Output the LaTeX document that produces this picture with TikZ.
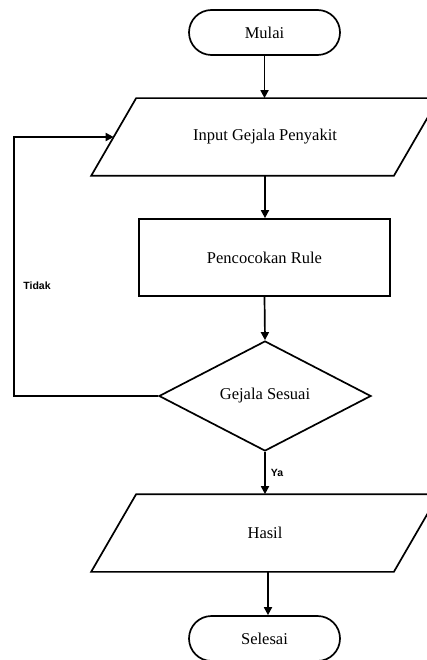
\documentclass[tikz,border=0pt]{standalone}
\usepackage{fontspec}
\setmainfont{Liberation Serif}
\newfontfamily\lblfont{Liberation Sans}
\usetikzlibrary{shapes.geometric,arrows.meta}
\begin{document}
\begin{tikzpicture}[x=1pt,y=-1pt,
  line width=1.7pt,
  arr/.style={-{Triangle[length=8pt,width=8pt]}},
  txt/.style={font=\fontsize{16.5}{18}\selectfont},
  term/.style={txt,draw,rectangle,rounded corners=22.5pt,minimum width=151pt,minimum height=45pt,inner sep=0pt},
  iobody/.style={txt,rectangle,minimum width=301pt,minimum height=76pt,inner sep=0pt},
  procbox/.style={txt,draw,rectangle,minimum width=251pt,minimum height=77pt,inner sep=0pt},
  decbox/.style={txt,draw,diamond,minimum width=212pt,minimum height=110pt,inner sep=0pt,aspect=1.93},
  lbl/.style={font=\lblfont\bfseries\fontsize{10.5}{12}\selectfont,inner sep=0pt}
]
\useasboundingbox (0,0) rectangle (427,660);
\clip (0,0) rectangle (427,660);
\node[term] (mulai) at (264.5,32.5) {Mulai};
\node[iobody] (input) at (265,137) {Input Gejala Penyakit};
\draw ([xshift=22.5pt]input.north west) -- ([xshift=22.5pt]input.north east) -- ([xshift=-22.5pt]input.south east) -- ([xshift=-22.5pt]input.south west) -- cycle;
\node[procbox] (rule) at (264.5,257.5) {Pencocokan Rule};
\node[decbox] (dec) at (265,396) {Gejala Sesuai};
\node[iobody] (hasil) at (265,533) {Hasil};
\draw ([xshift=22.5pt]hasil.north west) -- ([xshift=22.5pt]hasil.north east) -- ([xshift=-22.5pt]hasil.south east) -- ([xshift=-22.5pt]hasil.south west) -- cycle;
\node[term] (selesai) at (264.5,638.5) {Selesai};
\coordinate (loop) at (14,396);
\node[lbl] (tidak) at (37,286) {Tidak};
\node[lbl] (ya) at (277,473) {Ya};
\draw[arr] (mulai.south) -- (mulai.south |- input.north);
\draw[arr] (input.south) -- (input.south |- rule.north);
\draw[arr] (rule.south) -- (dec.north);
\draw[arr] (dec.west) -- (loop) |- (input.west);
\draw[arr] (dec.south) -- (dec.south |- hasil.north);
\draw[arr] ([xshift=3pt]hasil.south) -- ([xshift=3pt]hasil.south |- selesai.north);
\end{tikzpicture}
\end{document}
